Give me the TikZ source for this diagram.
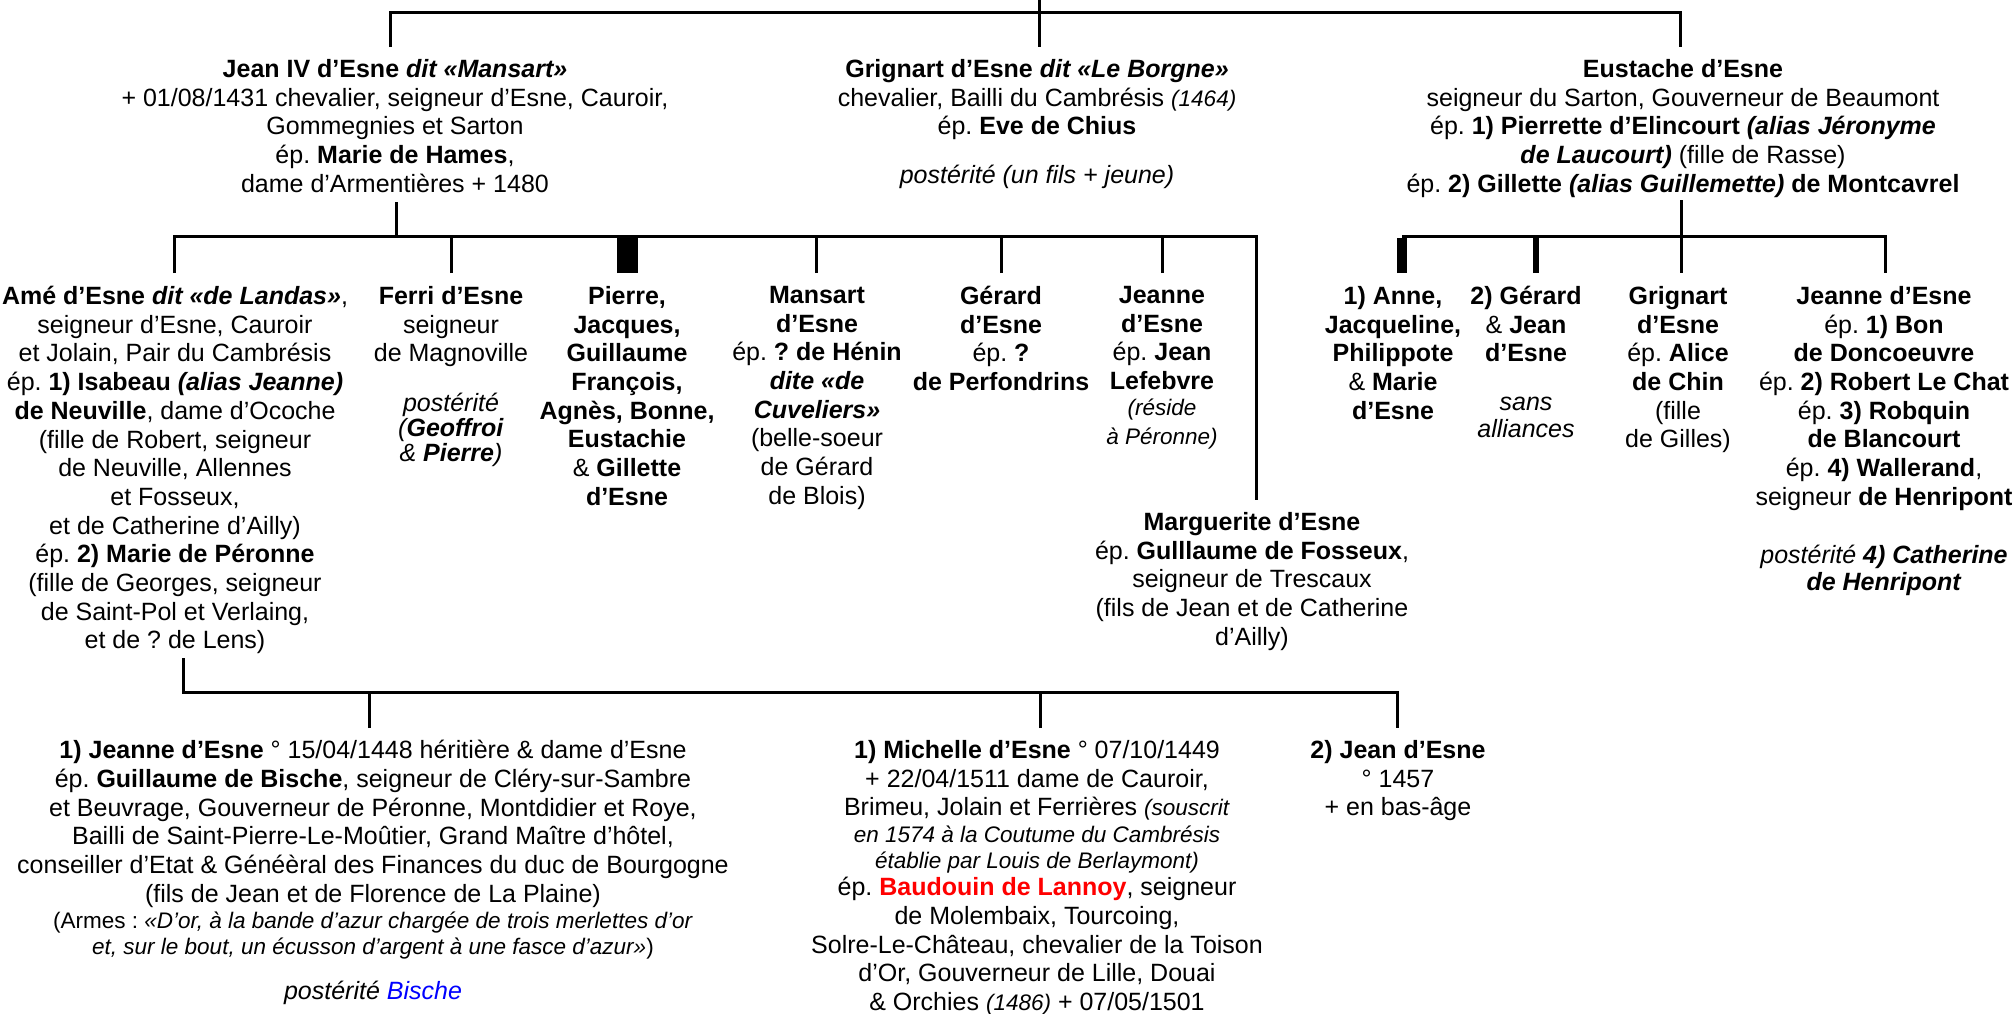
\documentclass[tikz,border=0pt]{standalone}
\usepackage{fontspec}
\setmainfont{Liberation Sans}
\frenchspacing
\definecolor{lannoy}{RGB}{255,0,0}
\definecolor{bische}{RGB}{0,0,255}
\newcommand\smf{\fontsize{22.5}{26}\selectfont}
\tikzset{
  tree/.style={line width=3pt, line cap=butt},
  txt/.style={anchor=north, align=center, inner sep=0pt, font=\fontsize{25}{28.7}\selectfont\frenchspacing},
}
\begin{document}
\begin{tikzpicture}[x=1pt,y=-1pt]
\useasboundingbox (0,0) rectangle (2015,1013);

% ---------- generation 1 ----------
\node[txt] (jeanIV) at (395,59) {\textbf{Jean IV d’Esne \textit{dit «Mansart»}}\\
+ 01/08/1431 chevalier, seigneur d’Esne, Cauroir,\\
Gommegnies et Sarton\\
ép. \textbf{Marie de Hames},\\
dame d’Armentières + 1480};

\node[txt] (grignart) at (1037,59) {\textbf{Grignart d’Esne \textit{dit «Le Borgne»}}\\
chevalier, Bailli du Cambrésis {\smf\textit{(1464)}}\\
ép. \textbf{Eve de Chius}\\[20pt]
\textit{postérité (un fils + jeune)}};

\node[txt] (eustache) at (1683,59) {\textbf{Eustache d’Esne}\\
seigneur du Sarton, Gouverneur de Beaumont\\
ép. \textbf{1) Pierrette d’Elincourt \textit{(alias Jéronyme}}\\
\textbf{\textit{de Laucourt)}} (fille de Rasse)\\
ép. \textbf{2) Gillette \textit{(alias Guillemette)} de Montcavrel}};

% ---------- generation 2 ----------
\node[txt] (ame) at (175,286) {\textbf{Amé d’Esne \textit{dit «de Landas»}},\\
seigneur d’Esne, Cauroir\\
et Jolain, Pair du Cambrésis\\
ép. \textbf{1) Isabeau \textit{(alias Jeanne)}}\\
\textbf{de Neuville}, dame d’Ocoche\\
(fille de Robert, seigneur\\
de Neuville, Allennes\\
et Fosseux,\\
et de Catherine d’Ailly)\\
ép. \textbf{2) Marie de Péronne}\\
(fille de Georges, seigneur\\
de Saint-Pol et Verlaing,\\
et de ? de Lens)};

\node[txt] (ferri) at (451,286) {\textbf{Ferri d’Esne}\\
seigneur\\
de Magnoville\\[21pt]
\textit{postérité}\\[-3.7pt]
\textit{(\textbf{Geoffroi}}\\[-3.7pt]
\textit{\& \textbf{Pierre})}};

\node[txt] (pierre) at (627,286) {\textbf{Pierre,}\\
\textbf{Jacques,}\\
\textbf{Guillaume}\\
\textbf{François,}\\
\textbf{Agnès, Bonne,}\\
\textbf{Eustachie}\\
\& \textbf{Gillette}\\
\textbf{d’Esne}};

\node[txt] (mansart) at (817,286) {\textbf{Mansart}\\
\textbf{d’Esne}\\
ép. \textbf{? de Hénin}\\
\textbf{\textit{dite «de}}\\
\textbf{\textit{Cuveliers»}}\\
(belle-soeur\\
de Gérard\\
de Blois)};

\node[txt] (gerard) at (1001,286) {\textbf{Gérard}\\
\textbf{d’Esne}\\
ép. \textbf{?}\\
\textbf{de Perfondrins}};

\node[txt] (jeanne) at (1162,286) {\textbf{Jeanne}\\
\textbf{d’Esne}\\
ép. \textbf{Jean}\\
\textbf{Lefebvre}\\[-2.5pt]
{\smf\textit{(réside}}\\
{\smf\textit{à Péronne)}}};

\node[txt] (marguerite) at (1252,512) {\textbf{Marguerite d’Esne}\\
ép. \textbf{Gulllaume de Fosseux},\\
seigneur de Trescaux\\
(fils de Jean et de Catherine\\
d’Ailly)};

\node[txt] (anne) at (1393,286) {\textbf{1) Anne,}\\
\textbf{Jacqueline,}\\
\textbf{Philippote}\\
\& \textbf{Marie}\\
\textbf{d’Esne}};

\node[txt] (gerardB) at (1526,286) {\textbf{2) Gérard}\\
\& \textbf{Jean}\\
\textbf{d’Esne}\\[20pt]
\textit{sans}\\[-2pt]
\textit{alliances}};

\node[txt] (grignartB) at (1678,286) {\textbf{Grignart}\\
\textbf{d’Esne}\\
ép. \textbf{Alice}\\
\textbf{de Chin}\\
(fille\\
de Gilles)};

\node[txt] (jeanneB) at (1884,286) {\textbf{Jeanne d’Esne}\\
ép. \textbf{1) Bon}\\
\textbf{de Doncoeuvre}\\
ép. \textbf{2) Robert Le Chat}\\
ép. \textbf{3) Robquin}\\
\textbf{de Blancourt}\\
ép. \textbf{4) Wallerand},\\
seigneur \textbf{de Henripont}\\[30pt]
\textit{postérité \textbf{4) Catherine}}\\[-2pt]
\textbf{\textit{de Henripont}}};

% ---------- generation 3 ----------
\node[txt] (jeanneC) at (373,740) {\textbf{1) Jeanne d’Esne} ° 15/04/1448 héritière \& dame d’Esne\\
ép. \textbf{Guillaume de Bische}, seigneur de Cléry-sur-Sambre\\
et Beuvrage, Gouverneur de Péronne, Montdidier et Roye,\\
Bailli de Saint-Pierre-Le-Moûtier, Grand Maître d’hôtel,\\
conseiller d’Etat \& Généèral des Finances du duc de Bourgogne\\
(fils de Jean et de Florence de La Plaine)\\[-2.7pt]
{\smf (Armes : \textit{«D’or, à la bande d’azur chargée de trois merlettes d’or}}\\[-2.7pt]
{\smf\textit{et, sur le bout, un écusson d’argent à une fasce d’azur»})}\\[17pt]
\textit{postérité \textcolor{bische}{Bische}}};

\node[txt] (michelle) at (1037,740) {\textbf{1) Michelle d’Esne} ° 07/10/1449\\
+ 22/04/1511 dame de Cauroir,\\
Brimeu, Jolain et Ferrières {\smf\textit{(souscrit}}\\[-1.7pt]
{\smf\textit{en 1574 à la Coutume du Cambrésis}}\\[-2.7pt]
{\smf\textit{établie par Louis de Berlaymont)}}\\[-1.7pt]
ép. \textcolor{lannoy}{\textbf{Baudouin de Lannoy}}, seigneur\\
de Molembaix, Tourcoing,\\
Solre-Le-Château, chevalier de la Toison\\
d’Or, Gouverneur de Lille, Douai\\
\& Orchies {\smf\textit{(1486)}} + 07/05/1501};

\node[txt] (jeanC) at (1398,740) {\textbf{2) Jean d’Esne}\\
° 1457\\
+ en bas-âge};

% ---------- connectors ----------
\coordinate (root) at (1039,0);
\coordinate (rootBar) at (1039,12);
\coordinate (jeanIVin) at (390,47);
\coordinate (grignartIn) at (1039,47);
\coordinate (eustacheIn) at (1680,47);
\draw[tree] (root) -- (rootBar);
\draw[tree] (jeanIVin) |- (rootBar) -| (eustacheIn);
\draw[tree] (rootBar) -- (grignartIn);

% children of Jean IV
\coordinate (jeanIVout) at (396,202);
\coordinate (jeanIVbar) at (396,236);
\coordinate (ameIn) at (174,273);
\coordinate (ferriIn) at (451,273);
\coordinate (pierreIn) at (627.5,273);
\coordinate (mansartIn) at (816,273);
\coordinate (gerardIn) at (1001,273);
\coordinate (jeanneIn) at (1162,273);
\coordinate (margueriteIn) at (1256,500);
\draw[tree] (jeanIVout) -- (jeanIVbar);
\draw[tree] (ameIn) |- (jeanIVbar) -| (margueriteIn);
\draw[tree] (ferriIn) -- (ferriIn |- jeanIVbar);
\draw[tree] (mansartIn) -- (mansartIn |- jeanIVbar);
\draw[tree] (gerardIn) -- (gerardIn |- jeanIVbar);
\draw[tree] (jeanneIn) -- (jeanneIn |- jeanIVbar);
\draw[tree, line width=21pt] (pierreIn) -- ([yshift=-1.5pt]pierreIn |- jeanIVbar);

% children of Eustache
\coordinate (eustacheOut) at (1681,200);
\coordinate (eustacheBar) at (1681,236);
\coordinate (anneIn) at (1402,273);
\coordinate (gerardBIn) at (1536,273);
\coordinate (grignartBIn) at (1681,273);
\coordinate (jeanneBIn) at (1885,273);
\draw[tree] (eustacheOut) -- (grignartBIn);
\draw[tree] (anneIn |- eustacheBar) -| (jeanneBIn);
\draw[tree, line width=10pt] (anneIn) -- ([yshift=-1.5pt]anneIn |- eustacheBar);
\draw[tree, line width=6pt] (gerardBIn) -- ([yshift=-1.5pt]gerardBIn |- eustacheBar);

% children of Amé
\coordinate (ameOut) at (183,658);
\coordinate (ameBar) at (183,692);
\coordinate (jeanneCIn) at (369,728);
\coordinate (michelleIn) at (1040,728);
\coordinate (jeanCIn) at (1397,728);
\draw[tree] (ameOut) -- (ameBar) -| (jeanCIn);
\draw[tree] (jeanneCIn) -- (jeanneCIn |- ameBar);
\draw[tree] (michelleIn) -- (michelleIn |- ameBar);
\end{tikzpicture}
\end{document}
